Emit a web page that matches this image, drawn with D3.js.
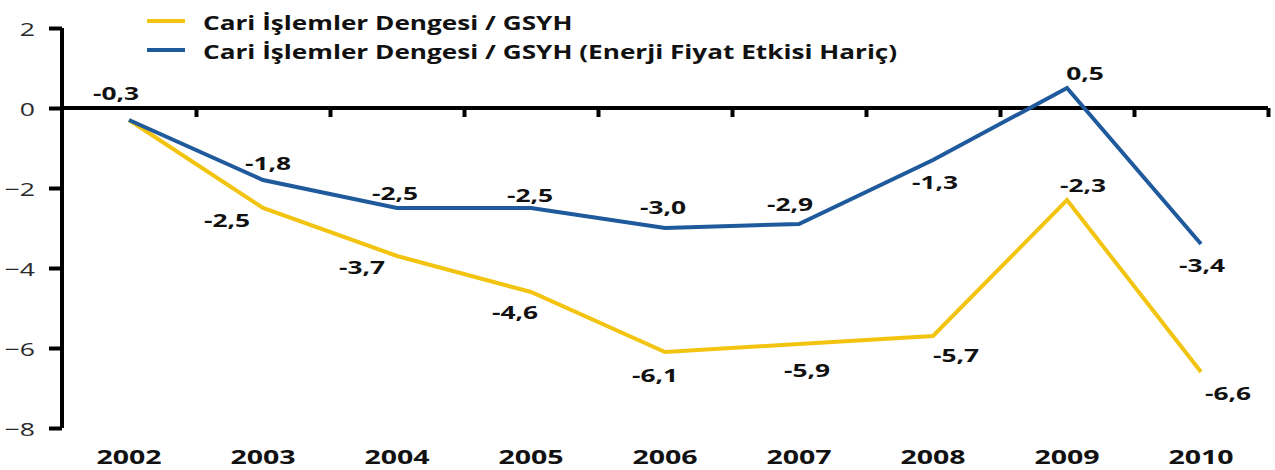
<!DOCTYPE html>
<html>
<head>
<meta charset="utf-8">
<script src="https://cdn.jsdelivr.net/npm/d3@7/dist/d3.min.js"></script>
<style>
  html, body { margin: 0; padding: 0; background: #fff; }
  svg { display: block; }
  text { font-family: "Open Sans", "DejaVu Sans", sans-serif; }
</style>
</head>
<body>
<svg id="chart" width="1275" height="470"></svg>
<script>
// ---- data ----
const years = ["2002", "2003", "2004", "2005", "2006", "2007", "2008", "2009", "2010"];
const cariValues = [-0.3, -2.5, -3.7, -4.6, -6.1, -5.9, -5.7, -2.3, -6.6];
const enerjiHaricValues = [-0.3, -1.8, -2.5, -2.5, -3.0, -2.9, -1.3, 0.5, -3.4];
const yTicks = [2, 0, -2, -4, -6, -8];
const seriesNames = ["Cari İşlemler Dengesi / GSYH", "Cari İşlemler Dengesi / GSYH (Enerji Fiyat Etkisi Hariç)"];
const showCariLabel = [false, true, true, true, true, true, true, true, true];

// ---- label placement (layout, px offsets from the point) ----
const cariLabelOffsets = [[0,0],[-36,12],[-35,11],[-16,20],[-10,23],[8,26],[23,19],[16,-15],[27,21]];
const haricLabelOffsets = [[-13,-27],[5,-17],[-2,-15],[-1,-13],[-2,-21],[-9,-20],[2,22],[18,-15],[1,21]];

const YELLOW = "#F2C40F", BLUE = "#1F5A9C";
const SX = 1.4;       // horizontal text stretch of the original
const SX_LABEL = 1.55;
const SX_YEAR = 1.5;

const svg = d3.select("#chart");
const x = d3.scaleBand().domain(years).range([62, 1268]);
const xb = d3.scaleLinear().domain([0, years.length]).range([62, 1268]);
const y = d3.scaleLinear().domain([-8, 2]).range([428, 28]);
const fmt = v => v.toFixed(1).replace(".", ",");
const cx = d => x(d) + x.bandwidth() / 2;

// Y axis
const yAxis = svg.append("g").attr("transform", "translate(62,0)")
  .call(d3.axisLeft(y).tickValues(yTicks).tickSize(13).tickFormat(d3.format("d")));
yAxis.select(".domain").attr("stroke", "#000").attr("stroke-width", 4)
  .attr("d", `M0,${y(2)}V${y(-8)}`);
yAxis.selectAll(".tick line").attr("stroke", "#000").attr("stroke-width", 4);
yAxis.selectAll(".tick text")
  .attr("x", null).attr("dy", null)
  .attr("font-size", 19).attr("fill", "#2a2a2a")
  .attr("text-anchor", "end").attr("dominant-baseline", "central")
  .attr("transform", `translate(-27,0) scale(${SX},1)`);

// X axis line at zero with boundary ticks
const xAxis = svg.append("g").attr("transform", `translate(0,${y(0)})`)
  .call(d3.axisBottom(xb).tickValues(d3.range(1, years.length + 1)).tickSize(9).tickFormat(""));
xAxis.select(".domain").attr("stroke", "#000").attr("stroke-width", 4)
  .attr("d", `M62,0H1268`);
xAxis.selectAll(".tick line").attr("stroke", "#000").attr("stroke-width", 4);

// Year labels
const yearAxis = svg.append("g").attr("transform", "translate(0,440)")
  .call(d3.axisBottom(x).tickSize(0));
yearAxis.select(".domain").remove();
yearAxis.selectAll(".tick text")
  .attr("y", null).attr("dy", null)
  .attr("font-size", 19).attr("font-weight", "bold").attr("fill", "#111")
  .attr("dominant-baseline", "central")
  .attr("transform", `translate(0,17) scale(${SX_YEAR},1)`);

// Lines
const line = d3.line().x((d, i) => cx(years[i])).y(d => y(d));
svg.append("path").datum(cariValues).attr("d", line)
  .attr("fill", "none").attr("stroke", YELLOW).attr("stroke-width", 4).attr("stroke-linejoin", "miter");
svg.append("path").datum(enerjiHaricValues).attr("d", line)
  .attr("fill", "none").attr("stroke", BLUE).attr("stroke-width", 4).attr("stroke-linejoin", "miter");

// Value labels
function addLabels(values, offsets, show) {
  svg.append("g").selectAll("text")
    .data(values.map((v, i) => ({ v, i })).filter(d => !show || show[d.i]))
    .join("text")
    .attr("font-size", 17).attr("font-weight", "bold").attr("fill", "#111")
    .attr("text-anchor", "middle").attr("dominant-baseline", "central")
    .text(d => fmt(d.v))
    .attr("transform", d => `translate(${cx(years[d.i]) + offsets[d.i][0]},${y(d.v) + offsets[d.i][1]}) scale(${SX_LABEL},1)`);
}
addLabels(cariValues, cariLabelOffsets, showCariLabel);
addLabels(enerjiHaricValues, haricLabelOffsets, null);

// Legend
const legend = svg.append("g");
const legendColors = [YELLOW, BLUE];
const legendY = [21, 50];
seriesNames.forEach((name, i) => {
  legend.append("line").attr("x1", 147).attr("x2", 185).attr("y1", legendY[i]).attr("y2", legendY[i])
    .attr("stroke", legendColors[i]).attr("stroke-width", 4);
  legend.append("text").attr("font-size", 18.7).attr("font-weight", "bold").attr("fill", "#111")
    .attr("dominant-baseline", "central")
    .attr("transform", `translate(203,${legendY[i] + 2}) scale(${SX},1)`)
    .text(name);
});
</script>
</body>
</html>
